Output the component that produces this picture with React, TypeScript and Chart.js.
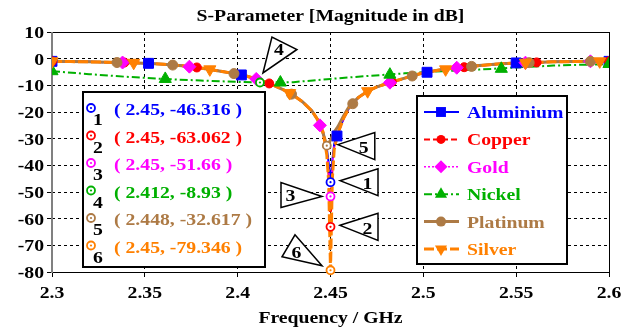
import { useEffect, useRef } from 'react';
import { Chart, registerables } from 'chart.js';

Chart.register(...registerables);

// ---------------- DATA ----------------
const freq = [2.3, 2.31, 2.32, 2.33, 2.34, 2.35, 2.36, 2.37, 2.38, 2.39, 2.4, 2.405, 2.41, 2.415, 2.42, 2.425, 2.43, 2.435, 2.44, 2.443, 2.446, 2.448, 2.449, 2.45, 2.451, 2.452, 2.454, 2.457, 2.46, 2.465, 2.47, 2.475, 2.48, 2.49, 2.5, 2.51, 2.52, 2.53, 2.54, 2.55, 2.56, 2.57, 2.58, 2.59, 2.6];

const aluminium = [-1.0, -1.1, -1.2, -1.35, -1.5, -1.7, -2.1, -2.7, -3.5, -4.6, -5.8, -6.6, -7.6, -8.8, -10.2, -11.8, -13.7, -16.2, -19.6, -22.8, -27.5, -33.5, -39, -46.316, -38, -32, -28, -22.5, -18.5, -14.6, -12.2, -10.6, -9.4, -7.3, -5.3, -4.1, -3.3, -2.6, -2.0, -1.6, -1.4, -1.2, -1.1, -1.0, -1.0];
const copper = [-1.0, -1.1, -1.2, -1.35, -1.5, -1.7, -2.1, -2.7, -3.5, -4.6, -5.8, -6.6, -7.6, -8.8, -10.2, -11.8, -13.7, -16.2, -19.6, -22.8, -27.5, -35, -44, -63.062, -42, -33, -28, -22.5, -18.5, -14.6, -12.2, -10.6, -9.4, -7.3, -5.3, -4.1, -3.3, -2.6, -2.0, -1.6, -1.4, -1.2, -1.1, -1.0, -1.0];
const gold = [-1.0, -1.1, -1.2, -1.35, -1.5, -1.7, -2.1, -2.7, -3.5, -4.6, -5.8, -6.6, -7.6, -8.8, -10.2, -11.8, -13.7, -16.2, -19.6, -22.8, -27.5, -34, -41, -51.66, -40, -32.5, -28, -22.5, -18.5, -14.6, -12.2, -10.6, -9.4, -7.3, -5.3, -4.1, -3.3, -2.6, -2.0, -1.6, -1.4, -1.2, -1.1, -1.0, -1.0];
const platinum = [-1.0, -1.1, -1.2, -1.35, -1.5, -1.7, -2.1, -2.7, -3.5, -4.6, -5.8, -6.6, -7.6, -8.8, -10.2, -11.8, -13.7, -16.2, -19.6, -22.8, -28, -32.617, -32, -30.5, -29, -27.5, -25.5, -21.5, -18, -14.5, -12.2, -10.6, -9.4, -7.3, -5.3, -4.1, -3.3, -2.6, -2.0, -1.6, -1.4, -1.2, -1.1, -1.0, -1.0];
const silver = [-1.0, -1.1, -1.2, -1.35, -1.5, -1.7, -2.1, -2.7, -3.5, -4.6, -5.8, -6.6, -7.6, -8.8, -10.2, -11.8, -13.7, -16.2, -19.6, -22.8, -27.5, -36, -46, -79.346, -45, -34, -28, -22.5, -18.5, -14.6, -12.2, -10.6, -9.4, -7.3, -5.3, -4.1, -3.3, -2.6, -2.0, -1.6, -1.4, -1.2, -1.1, -1.0, -1.0];

const nickelFreq = [2.3, 2.32, 2.34, 2.36, 2.38, 2.4, 2.412, 2.43, 2.45, 2.47, 2.49, 2.51, 2.53, 2.55, 2.57, 2.6];
const nickel = [-4.7, -5.8, -6.8, -7.6, -8.2, -8.7, -8.93, -8.8, -7.6, -6.5, -5.5, -4.7, -4.1, -3.3, -2.6, -2.0];

// symbol positions along each curve
const aluSymF = [2.3, 2.352, 2.402, 2.4535, 2.502, 2.55, 2.6];
const aluSymV = [-1.0, -1.75, -6.1, -29, -5.1, -1.6, -1.0];
const copSymF = [2.3, 2.339, 2.378, 2.417, 2.483, 2.522, 2.561, 2.6];
const copSymV = [-1.0, -1.45, -3.3, -9.3, -8.7, -3.2, -1.4, -1.0];
const goldSymF = [2.338, 2.374, 2.41, 2.4443, 2.482, 2.518, 2.555, 2.59];
const goldSymV = [-1.45, -3.0, -7.6, -25, -9.0, -3.4, -1.5, -1.0];
const nickSymF = [2.3, 2.361, 2.423, 2.482, 2.542, 2.6];
const nickSymV = [-4.7, -7.6, -8.95, -6.0, -3.8, -2.0];
const platSymF = [2.335, 2.365, 2.398, 2.429, 2.462, 2.494, 2.526, 2.557, 2.59];
const platSymV = [-1.45, -2.4, -5.6, -13.3, -16.9, -6.5, -2.9, -1.5, -1.0];
const silvSymF = [2.3, 2.344, 2.385, 2.428, 2.47, 2.512, 2.555, 2.595];
const silvSymV = [-1.0, -1.55, -4.0, -12.9, -12.2, -4.0, -1.5, -1.0];

const seriesNames = ['Aluminium', 'Copper', 'Gold', 'Nickel', 'Platinum', 'Silver'];

// curve markers 1..6
const markerFreq = [2.45, 2.45, 2.45, 2.412, 2.448, 2.45];
const markerVal = [-46.316, -63.062, -51.66, -8.93, -32.617, -79.346];

const xTicks = [2.3, 2.35, 2.4, 2.45, 2.5, 2.55, 2.6];
const xTickLabels = ['2.3', '2.35', '2.4', '2.45', '2.5', '2.55', '2.6'];
const yTicks = [10, 0, -10, -20, -30, -40, -50, -60, -70, -80];
const yTickLabels = ['10', '0', '-10', '-20', '-30', '-40', '-50', '-60', '-70', '-80'];

const titleText = 'S-Parameter [Magnitude in dB]';
const xTitleText = 'Frequency / GHz';

// ---------------- STYLE ----------------
const COLORS = ['#0000FF', '#FF0000', '#FF00FF', '#00B000', '#AD7A45', '#FF8000'];
const WIDTHS = [2, 2, 1.5, 2, 3, 3];
const DASHES: number[][] = [[], [6, 3], [2, 2], [8, 3, 2, 3], [], [10, 3]];
const PSTYLE = ['rect', 'circle', 'rectRot', 'triangle', 'circle', 'triangle'];
const PRAD = [7, 4.5, 6.5, 7, 5, 7];
const PROT = [0, 0, 0, 0, 0, 180];

const FONT = '"Liberation Serif", "Times New Roman", serif';
const SX = 1.16;

function drawText(ctx: CanvasRenderingContext2D, s: string, x: number, y: number, align: string, color: string, size = 17) {
  ctx.save();
  ctx.font = `bold ${size}px ${FONT}`;
  ctx.fillStyle = color;
  ctx.textAlign = 'left';
  ctx.textBaseline = 'alphabetic';
  const w = ctx.measureText(s).width * SX;
  const left = align === 'left' ? x : align === 'right' ? x - w : x - w / 2;
  ctx.translate(left, y);
  ctx.scale(SX, 1);
  ctx.fillText(s, 0, 0);
  ctx.restore();
}

function symbolPath(ctx: CanvasRenderingContext2D, style: string, x: number, y: number, r: number, rotDeg: number) {
  ctx.beginPath();
  let rad = (rotDeg * Math.PI) / 180;
  if (style === 'circle') {
    ctx.arc(x, y, r, 0, Math.PI * 2);
  } else if (style === 'rect') {
    const s = Math.SQRT1_2 * r;
    ctx.rect(x - s, y - s, 2 * s, 2 * s);
  } else if (style === 'rectRot') {
    ctx.moveTo(x - r, y);
    ctx.lineTo(x, y - r);
    ctx.lineTo(x + r, y);
    ctx.lineTo(x, y + r);
  } else if (style === 'triangle') {
    for (let k = 0; k < 3; k++) {
      const px = x + Math.sin(rad) * r;
      const py = y - Math.cos(rad) * r;
      if (k === 0) ctx.moveTo(px, py);
      else ctx.lineTo(px, py);
      rad += (2 * Math.PI) / 3;
    }
  }
  ctx.closePath();
}

// triangle call-outs (pixel offsets from marker point)
const CALLOUTS: { tri: number[][]; lab: number[] }[] = [
  { tri: [[9.5, -1.5], [47.5, -13.5], [47.5, 13.5]], lab: [37, 7] },
  { tri: [[9.5, -1.5], [47.5, -13.5], [47.5, 13.5]], lab: [37, 7] },
  { tri: [[-8.5, 0], [-49.5, -14], [-49.5, 11]], lab: [-40, 5] },
  { tri: [[3, -9.5], [12, -45.5], [37, -33]], lab: [19, -27] },
  { tri: [[11, -1], [48, -13], [48, 14]], lab: [37, 7] },
  { tri: [[-8.5, -4.5], [-35.5, -35.5], [-48.5, -13.5]], lab: [-34, -12] },
];

const overlayPlugin = {
  id: 'overlay',
  beforeDatasetsDraw(chart: any) {
    const { ctx, chartArea: a } = chart;
    ctx.save();
    ctx.strokeStyle = '#000';
    ctx.lineWidth = 1;
    ctx.beginPath();
    ctx.moveTo(a.left, a.top + 0.5);
    ctx.lineTo(a.right + 0.5, a.top + 0.5);
    ctx.lineTo(a.right + 0.5, a.bottom + 0.5);
    ctx.lineTo(a.left, a.bottom + 0.5);
    ctx.stroke();
    ctx.strokeStyle = '#808080';
    ctx.lineWidth = 2;
    ctx.beginPath();
    ctx.moveTo(a.left, a.top);
    ctx.lineTo(a.left, a.bottom + 1);
    ctx.stroke();
    ctx.restore();
  },
  afterDatasetsDraw(chart: any) {
    const { ctx } = chart;
    const xs = chart.scales.x;
    const ys = chart.scales.y;
    // call-out triangles
    markerFreq.forEach((f, i) => {
      const mx = xs.getPixelForValue(f);
      const my = ys.getPixelForValue(markerVal[i]);
      const c = CALLOUTS[i];
      ctx.save();
      ctx.beginPath();
      c.tri.forEach((p, k) => {
        if (k === 0) ctx.moveTo(mx + p[0], my + p[1]);
        else ctx.lineTo(mx + p[0], my + p[1]);
      });
      ctx.closePath();
      ctx.fillStyle = '#fff';
      ctx.fill();
      ctx.strokeStyle = '#000';
      ctx.lineWidth = 1.5;
      ctx.stroke();
      ctx.restore();
      drawText(ctx, String(i + 1), mx + c.lab[0], my + c.lab[1], 'center', '#000', 17);
    });
    // marker points
    markerFreq.forEach((f, i) => {
      const mx = xs.getPixelForValue(f);
      const my = ys.getPixelForValue(markerVal[i]);
      ctx.save();
      ctx.beginPath();
      ctx.arc(mx, my, 4, 0, Math.PI * 2);
      ctx.fillStyle = '#fff';
      ctx.fill();
      ctx.strokeStyle = COLORS[i];
      ctx.lineWidth = 1.8;
      ctx.stroke();
      ctx.beginPath();
      ctx.arc(mx, my, 1.1, 0, Math.PI * 2);
      ctx.fillStyle = COLORS[i];
      ctx.fill();
      ctx.restore();
    });
  },
  afterDraw(chart: any) {
    const { ctx, chartArea: a } = chart;
    const xs = chart.scales.x;
    const ys = chart.scales.y;
    const cx = (a.left + a.right) / 2;

    // title & axis title
    drawText(ctx, titleText, cx, a.top - 11, 'center', '#000', 17);
    drawText(ctx, xTitleText, cx, a.bottom + 51, 'center', '#000', 17);

    // tick labels
    xTicks.forEach((v, i) => {
      drawText(ctx, xTickLabels[i], xs.getPixelForValue(v), a.bottom + 26, 'center', '#000', 17);
    });
    yTicks.forEach((v, i) => {
      drawText(ctx, yTickLabels[i], a.left - 8, ys.getPixelForValue(v) + 6, 'right', '#000', 17);
    });

    // marker value box
    const bx = a.left + 31, by = a.top + 60, bw = 182, bh = 175;
    ctx.save();
    ctx.fillStyle = '#fff';
    ctx.fillRect(bx, by, bw, bh);
    ctx.strokeStyle = '#000';
    ctx.lineWidth = 2;
    ctx.strokeRect(bx, by, bw, bh);
    ctx.restore();
    markerFreq.forEach((f, i) => {
      const ry = by + 16 + i * 27.5;
      const mx = bx + 8;
      ctx.save();
      ctx.beginPath();
      ctx.arc(mx, ry, 4, 0, Math.PI * 2);
      ctx.fillStyle = '#fff';
      ctx.fill();
      ctx.strokeStyle = COLORS[i];
      ctx.lineWidth = 1.8;
      ctx.stroke();
      ctx.beginPath();
      ctx.arc(mx, ry, 1.1, 0, Math.PI * 2);
      ctx.fillStyle = COLORS[i];
      ctx.fill();
      ctx.restore();
      drawText(ctx, String(i + 1), mx + 7, ry + 17, 'center', '#000', 17);
      drawText(ctx, `( ${f}, ${markerVal[i]} )`, bx + 31, ry + 7, 'left', COLORS[i], 17);
    });

    // series legend
    const lx = a.right - 192, ly = a.top + 64, lw = 150, lh = 168;
    ctx.save();
    ctx.fillStyle = '#fff';
    ctx.fillRect(lx, ly, lw, lh);
    ctx.strokeStyle = '#000';
    ctx.lineWidth = 2;
    ctx.strokeRect(lx, ly, lw, lh);
    ctx.restore();
    seriesNames.forEach((name, i) => {
      const ry = ly + 16 + i * 27.4;
      ctx.save();
      ctx.strokeStyle = COLORS[i];
      ctx.lineWidth = WIDTHS[i];
      ctx.setLineDash(DASHES[i]);
      ctx.beginPath();
      ctx.moveTo(lx + 7, ry);
      ctx.lineTo(lx + 42, ry);
      ctx.stroke();
      ctx.setLineDash([]);
      symbolPath(ctx, PSTYLE[i], lx + 24, ry, PRAD[i], PROT[i]);
      ctx.fillStyle = COLORS[i];
      ctx.fill();
      ctx.restore();
      drawText(ctx, name, lx + 50, ry + 6, 'left', COLORS[i], 17);
    });
  },
};

function pts(fs: number[], vs: number[]) {
  return fs.map((f, i) => ({ x: f, y: vs[i] }));
}

export default function App() {
  const ref = useRef<HTMLCanvasElement | null>(null);

  useEffect(() => {
    if (!ref.current) return;
    const lines = [
      pts(freq, aluminium),
      pts(freq, copper),
      pts(freq, gold),
      pts(nickelFreq, nickel),
      pts(freq, platinum),
      pts(freq, silver),
    ];
    const syms = [
      pts(aluSymF, aluSymV),
      pts(copSymF, copSymV),
      pts(goldSymF, goldSymV),
      pts(nickSymF, nickSymV),
      pts(platSymF, platSymV),
      pts(silvSymF, silvSymV),
    ];
    const lineOrder = [13, 14, 12, 15, 11, 10];
    const datasets: any[] = [];
    seriesNames.forEach((name, i) => {
      datasets.push({
        label: name,
        data: lines[i],
        borderColor: COLORS[i],
        borderWidth: WIDTHS[i],
        borderDash: DASHES[i],
        pointRadius: 0,
        fill: false,
        tension: 0,
        order: lineOrder[i],
      });
      datasets.push({
        label: name + ' symbols',
        data: syms[i],
        showLine: false,
        pointStyle: PSTYLE[i],
        pointRadius: PRAD[i],
        pointRotation: PROT[i],
        pointBackgroundColor: COLORS[i],
        pointBorderColor: COLORS[i],
        pointBorderWidth: 1,
        order: 5 - i,
      });
    });

    const chart = new Chart(ref.current, {
      type: 'line',
      data: { datasets },
      options: {
        animation: false,
        responsive: true,
        maintainAspectRatio: false,
        layout: { padding: { top: 32, right: 28, left: 0, bottom: 0 } },
        plugins: {
          legend: { display: false },
          tooltip: { enabled: false },
          title: { display: false },
        },
        scales: {
          x: {
            type: 'linear',
            min: 2.3,
            max: 2.6,
            afterBuildTicks: (s: any) => {
              s.ticks = xTicks.map((v) => ({ value: v }));
            },
            afterFit: (s: any) => {
              s.height = 60;
            },
            ticks: { display: false },
            grid: { color: '#000', lineWidth: 1, drawTicks: true, tickLength: 5, tickColor: '#000', tickWidth: 1 },
            border: { display: false, dash: [3, 3] },
          },
          y: {
            type: 'linear',
            min: -80,
            max: 10,
            afterBuildTicks: (s: any) => {
              s.ticks = yTicks.map((v) => ({ value: v }));
            },
            afterFit: (s: any) => {
              s.width = 52;
            },
            ticks: { display: false },
            grid: { color: '#000', lineWidth: 1, drawTicks: true, tickLength: 5, tickColor: '#000', tickWidth: 1 },
            border: { display: false, dash: [3, 3] },
          },
        },
      } as any,
      plugins: [overlayPlugin],
    });
    return () => chart.destroy();
  }, []);

  return (
    <div style={{ position: 'fixed', left: 0, top: 0, width: 637, height: 332, background: '#fff' }}>
      <canvas ref={ref} style={{ display: 'block' }} />
    </div>
  );
}
